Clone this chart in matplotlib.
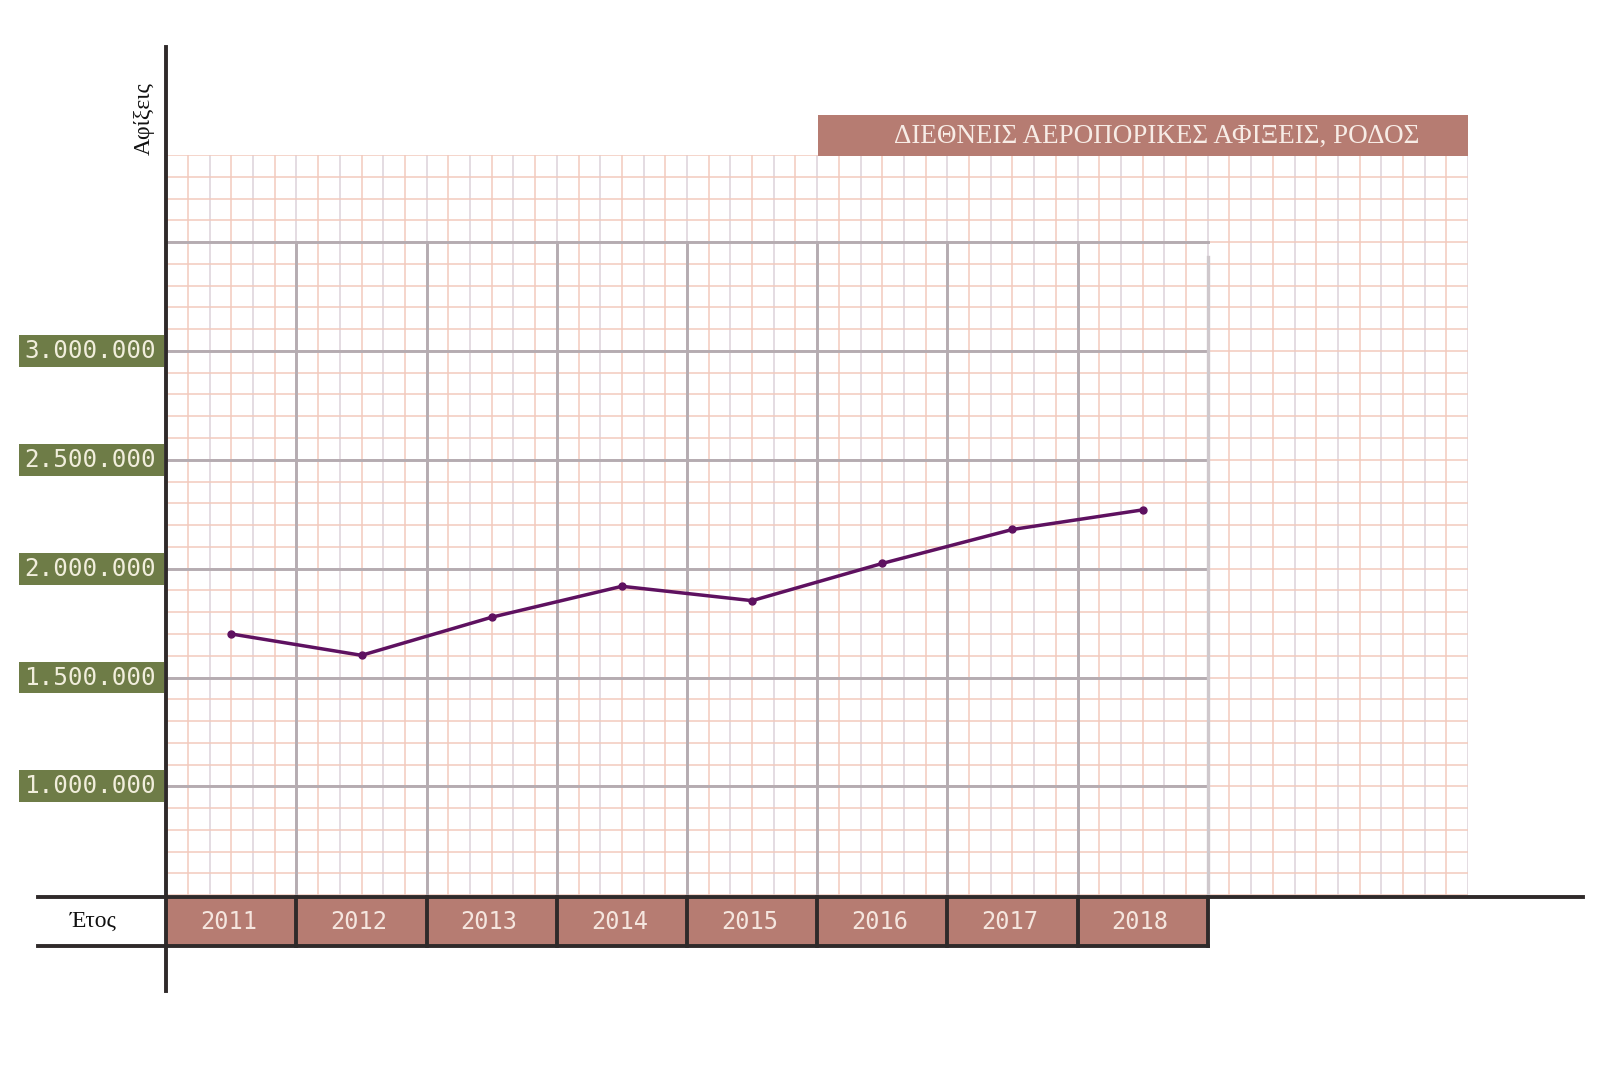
import numpy as np
import matplotlib
import matplotlib.pyplot as plt
from matplotlib.patches import Rectangle

matplotlib.use('Agg')

years = ['2011', '2012', '2013', '2014', '2015', '2016', '2017', '2018']
arrivals = [1700000, 1602000, 1777000, 1919000, 1853000, 2024000, 2180000, 2270000]
y_ticks = [1000000, 1500000, 2000000, 2500000, 3000000]
y_tick_labels = ['1.000.000', '1.500.000', '2.000.000', '2.500.000', '3.000.000']
title = 'ΔΙΕΘΝΕΙΣ ΑΕΡΟΠΟΡΙΚΕΣ ΑΦΙΞΕΙΣ, ΡΟΔΟΣ'
y_label = 'Αφίξεις'
x_label = 'Έτος'

rose = '#b67c72'
green = '#6e7c47'
ink = '#2f2a2a'
pink = '#f2cabd'
lav = '#ddd2da'
dark = '#b5acb1'

fig = plt.figure(figsize=(16.19, 10.71), dpi=100)
ax = fig.add_axes([0.1027, 0.1641, 0.8041, 0.6912])
ax.set_xlim(-0.5, 9.5)
ax.set_ylim(500000, 3900000)
ax.axis('off')

# graph paper, light grid
for k, xv in enumerate(np.arange(-0.5, 9.5 + 1e-6, 1 / 6)):
    ax.axvline(xv, color=pink if k % 2 else lav, lw=1.1, zorder=1)
for yv in np.arange(500000, 3900001, 100000):
    ax.axhline(yv, color=pink, lw=1.1, zorder=1)

# darker grid over the year/value area
n = len(years)
for yv in y_ticks + [3500000]:
    ax.plot([-0.5, n - 0.5], [yv, yv], color=dark, lw=2.1, zorder=2)
for i in range(1, n):
    ax.plot([i - 0.5, i - 0.5], [500000, 3500000], color=dark, lw=2.1, zorder=2)
ax.plot([n - 0.5, n - 0.5], [500000, 3430000], color='#cfc8cc', lw=2.4, zorder=2)

# data line
ax.plot(range(n), arrivals, color='#5e1160', lw=2.5, marker='o', ms=5, zorder=5)

xt = ax.get_xaxis_transform()
yt = ax.get_yaxis_transform()

# axis lines
ax.plot([-0.5, -0.5], [-0.13, 1.146], color=ink, lw=2.8, transform=xt, clip_on=False, zorder=6)
ax.plot([-0.0983, 1.088], [-0.003, -0.003], color=ink, lw=2.8, transform=ax.transAxes, clip_on=False, zorder=6)
ax.plot([-0.0983, 0.8], [-0.068, -0.068], color=ink, lw=2.8, transform=ax.transAxes, clip_on=False, zorder=6)

# year boxes
for i, yr in enumerate(years):
    ax.add_patch(Rectangle((i - 0.5, -0.068), 1, 0.065, transform=xt, facecolor=rose,
                           edgecolor='none', clip_on=False, zorder=4))
    ax.plot([i + 0.5, i + 0.5], [-0.068, -0.003], color=ink, lw=2.8, transform=xt, clip_on=False, zorder=6)
    ax.text(i - 0.02, -0.0355, yr, transform=xt, ha='center', va='center', color='#f5e6df',
            fontsize=17, family='DejaVu Sans Mono', zorder=7)

# value labels
for v, lab in zip(y_ticks, y_tick_labels):
    ax.add_patch(Rectangle((-0.1134, v - 73000), 0.1118, 146000, transform=yt, facecolor=green,
                           edgecolor='none', clip_on=False, zorder=4))
    ax.text(-0.0585, v, lab, transform=yt, ha='center', va='center', color='#f1eedc',
            fontsize=17.5, family='DejaVu Sans Mono', zorder=7)

# title box
ax.add_patch(Rectangle((0.5004, 0.9986), 0.4996, 0.0556, transform=ax.transAxes, facecolor=rose,
                       edgecolor='none', clip_on=False, zorder=4))
ax.text(0.761, 1.0245, title, transform=ax.transAxes, ha='center', va='center', color='#f7ece6',
        fontsize=19.5, family='Liberation Serif', zorder=7)

ax.text(-0.0167, 1.049, y_label, transform=ax.transAxes, ha='center', va='center', rotation=90,
        fontsize=17, family='Liberation Serif', color='#111111')
ax.text(-0.0563, -0.0355, x_label, transform=ax.transAxes, ha='center', va='center',
        fontsize=17, family='Liberation Serif', color='#111111')

fig.savefig('out.png', dpi=100, facecolor='white')
